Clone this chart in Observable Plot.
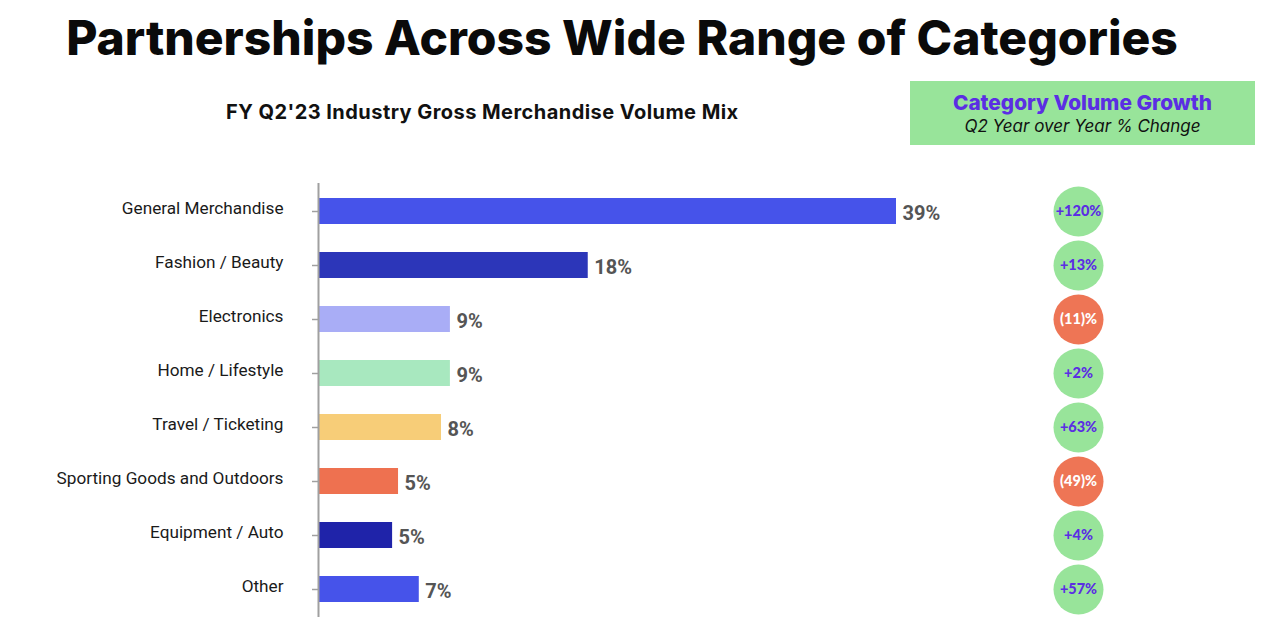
<!DOCTYPE html>
<html>
<head>
<meta charset="utf-8">
<script src="https://cdn.jsdelivr.net/npm/d3@7"></script>
<script src="https://cdn.jsdelivr.net/npm/@observablehq/plot@0.6"></script>
<style>
  html, body { margin: 0; padding: 0; background: #fff; }
  #page { position: relative; width: 1280px; height: 625px; overflow: hidden; }
  #title { position: absolute; left: 0; top: 8px; width: 1244px; text-align: center;
    font-family: "Inter", sans-serif; font-weight: 800; font-size: 48px; color: #0a0a0a; letter-spacing: 0px; white-space: nowrap; }
  #subtitle { position: absolute; left: 226px; top: 100px; font-family: "Inter", sans-serif;
    font-weight: 700; font-size: 20px; letter-spacing: 0.45px; color: #111; white-space: nowrap; }
  #box { position: absolute; left: 910px; top: 81px; width: 345px; height: 64px; background: #98e49a;
    text-align: center; }
  #box .h { color: #5b2ee3; font-family: "Inter", sans-serif; font-weight: 800; font-size: 20.8px; margin-top: 9px; line-height: 25px; }
  #box .s { color: #111; font-family: "Inter", sans-serif; font-style: italic; font-size: 17px; line-height: 23px; }
  #bars { position: absolute; left: 0; top: 0; }
  #growth { position: absolute; left: 1048px; top: 0; }
</style>
</head>
<body>
<div id="page">
  <div id="title">Partnerships Across Wide Range of Categories</div>
  <div id="subtitle">FY Q2'23 Industry Gross Merchandise Volume Mix</div>
  <div id="box"><div class="h">Category Volume Growth</div><div class="s">Q2 Year over Year % Change</div></div>
  <div id="bars"></div>
  <div id="growth"></div>
</div>
<script>
const categories = ["General Merchandise", "Fashion / Beauty", "Electronics", "Home / Lifestyle",
  "Travel / Ticketing", "Sporting Goods and Outdoors", "Equipment / Auto", "Other"];
const shares = [39.0, 18.2, 8.9, 8.9, 8.3, 5.4, 5.0, 6.8];
const barColors = ["#4653ea", "#2c36b9", "#a9adf6", "#a8e8bf", "#f7cd78", "#ee7150", "#1f23a9", "#4653ea"];
const growth = [120, 13, -11, 2, 63, -49, 4, 57];

const rows = categories.map((c, i) => ({
  category: c,
  share: shares[i],
  color: barColors[i],
  growth: growth[i],
  growthLabel: growth[i] >= 0 ? `+${growth[i]}%` : `(${Math.abs(growth[i])})%`,
  circle: growth[i] >= 0 ? "#98e49a" : "#ee7555",
  textColor: growth[i] >= 0 ? "#5b2ee3" : "#ffffff"
}));

const yScale = {domain: categories, paddingInner: 0.52, paddingOuter: 0.26};

const bars = Plot.plot({
  width: 1000, height: 625,
  marginTop: 183, marginBottom: 8, marginLeft: 318, marginRight: 104,
  x: {domain: [0, 39], axis: null},
  y: {...yScale, label: null},
  style: {fontFamily: "Roboto, sans-serif", background: "transparent", overflow: "visible"},
  marks: [
    Plot.barX(rows, {x: "share", y: "category", fill: "color"}),
    Plot.ruleX([0], {stroke: "#a0a0a0", strokeWidth: 2}),
    Plot.axisY({text: null, tickSize: 6, stroke: "#a0a0a0", strokeWidth: 1.5, label: null}),
    Plot.axisY({tickSize: 0, tickPadding: 35, fontSize: 17.2, fill: "#1a1a1a", dy: -3, label: null}),
    Plot.text(rows, {x: "share", y: "category", text: d => `${Math.round(d.share)}%`,
      textAnchor: "start", dx: 6, dy: 2, fontSize: 20, fontWeight: 700, fill: "#555"})
  ]
});
document.getElementById("bars").appendChild(bars);

const circles = Plot.plot({
  width: 60, height: 625,
  marginTop: 183, marginBottom: 8, marginLeft: 0, marginRight: 0,
  y: {...yScale, axis: null},
  style: {fontFamily: "Lato, sans-serif", background: "transparent", overflow: "visible"},
  marks: [
    Plot.dot(rows, {y: "category", r: 25, fill: "circle", stroke: null}),
    Plot.text(rows, {y: "category", text: "growthLabel", fill: "textColor",
      fontSize: 14.5, fontWeight: 900})
  ]
});
document.getElementById("growth").appendChild(circles);
</script>
</body>
</html>
